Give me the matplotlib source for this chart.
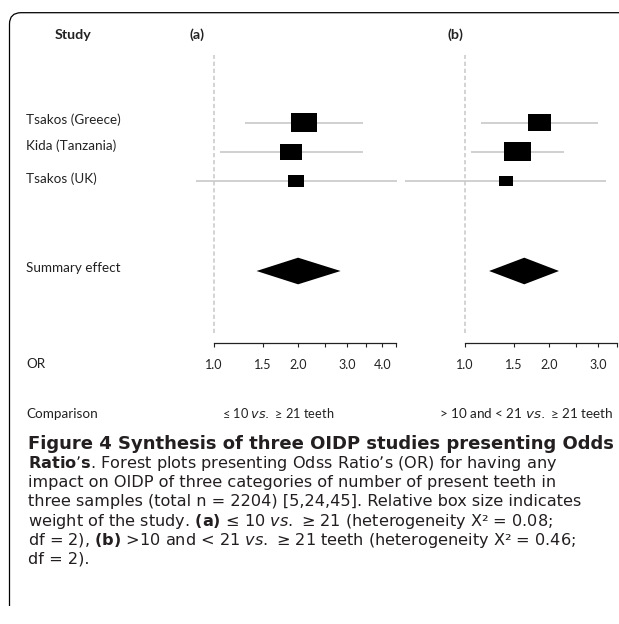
import numpy as np
import matplotlib
matplotlib.use('Agg')
import matplotlib.pyplot as plt
from matplotlib.path import Path
from matplotlib.patches import PathPatch, Polygon
from matplotlib.ticker import NullLocator

plt.rcParams['font.family'] = ['Lato', 'DejaVu Sans']
plt.rcParams['mathtext.fontset'] = 'dejavusans'

# data
studies = ['Tsakos (Greece)', 'Kida (Tanzania)', 'Tsakos (UK)']

or_a = [2.10, 1.89, 1.97]
lo_a = [1.29, 1.05, 0.86]
hi_a = [3.41, 3.41, 4.51]
wt_a = [47, 34, 19]
summ_a = [2.00, 1.42, 2.84]   # estimate, lower, upper
ticks_a = [1.0, 1.5, 2.0, 2.5, 3.0, 3.5, 4.0, 4.5]
lab_a = [1.0, 1.5, 2.0, 3.0, 4.0]

or_b = [1.85, 1.54, 1.40]
lo_b = [1.14, 1.05, 0.61]
hi_b = [2.99, 2.27, 3.20]
wt_b = [36, 51, 13]
summ_b = [1.63, 1.22, 2.17]
ticks_b = [1.0, 1.5, 2.0, 2.5, 3.0, 3.5]
lab_b = [1.0, 1.5, 2.0, 3.0]

W, H = 619, 624
fig = plt.figure(figsize=(W / 100, H / 100), dpi=100)


def fx(x):
    return x / W


def fy(y):
    return 1 - y / H


S = 121.3          # pixels per ln(OR)
top_px, axis_px = 55, 343.3
row0_px, row_step = 122.5, 29.25
summ_row = (271 - row0_px) / row_step

box = Path([(-0.7, -0.5), (0.7, -0.5), (0.7, 0.5), (-0.7, 0.5), (-0.7, -0.5)],
           [Path.MOVETO, Path.LINETO, Path.LINETO, Path.LINETO, Path.CLOSEPOLY])
grey = '#c8c8c8'


def forest(x0_px, xlo, xhi, ors, los, his, wts, summ, ticks, labs):
    left = x0_px + S * np.log(xlo)
    right = x0_px + S * np.log(xhi)
    ax = fig.add_axes([fx(left), fy(axis_px), (right - left) / W, (axis_px - top_px) / H])
    ax.set_xscale('log')
    ax.set_xlim(xlo, xhi)
    ytop = -(row0_px - top_px) / row_step
    ax.set_ylim(ytop + (axis_px - top_px) / row_step, ytop)
    ax.patch.set_alpha(0)
    for s in ['top', 'left', 'right']:
        ax.spines[s].set_visible(False)
    ax.set_yticks([])

    y = np.arange(len(ors))
    ax.hlines(y, los, his, color=grey, lw=1.2, zorder=1)
    ax.scatter(ors, y, s=np.array(wts) * 7.3, marker=box, color='black', lw=0, zorder=2)

    est, lo, hi = summ
    h = 0.455
    ax.add_patch(Polygon([(lo, summ_row), (est, summ_row - h), (hi, summ_row), (est, summ_row + h)],
                         closed=True, color='black', lw=0))
    ax.axvline(1, ymin=10.3 / (axis_px - top_px), ymax=1, color=grey, lw=1.1,
               ls=(0, (2.8, 1.8)), zorder=0)

    ax.spines['bottom'].set_bounds(ticks[0], ticks[-1])
    ax.spines['bottom'].set_linewidth(0.9)
    ax.spines['bottom'].set_color('#222222')
    ax.set_xticks(ticks)
    ax.set_xticklabels(['%.1f' % t if t in labs else '' for t in ticks])
    ax.xaxis.set_minor_locator(NullLocator())
    ax.tick_params(axis='x', direction='out', length=3, width=0.8, pad=8.3,
                   labelsize=9, colors='#222222')
    return ax


forest(214, 0.8, 4.6, or_a, lo_a, hi_a, wt_a, summ_a, ticks_a, lab_a)
forest(465, 0.6, 3.55, or_b, lo_b, hi_b, wt_b, summ_b, ticks_b, lab_b)

# frame
verts = [(9.5, 606), (9.5, 24), (9.5, 12.7), (21, 12.7), (619, 12.7)]
codes = [Path.MOVETO, Path.LINETO, Path.CURVE3, Path.CURVE3, Path.LINETO]
frame = Path([(fx(a), fy(b)) for a, b in verts], codes)
fig.add_artist(PathPatch(frame, fill=False, lw=0.9, color='black', transform=fig.transFigure))

lab = dict(size=9.7, color='#222222')
fig.text(fx(73), fy(35), 'Study', ha='center', va='center', weight='bold', size=10.3, color='#222222')
fig.text(fx(197.5), fy(35), '(a)', ha='center', va='center', weight='bold', size=10.3, color='#222222')
fig.text(fx(455), fy(35), '(b)', ha='center', va='center', weight='bold', size=10.3, color='#222222')
for name, ypx in zip(studies, [119.5, 146, 179]):
    fig.text(fx(26), fy(ypx), name, ha='left', va='center', **lab)
fig.text(fx(26), fy(268), 'Summary effect', ha='left', va='center', **lab)
fig.text(fx(26), fy(364), 'OR', ha='left', va='center', **lab)
fig.text(fx(26), fy(418), 'Comparison', ha='left', va='baseline', **lab)
fig.text(fx(278), fy(418), r'≤ 10 $\mathit{vs.}$ ≥ 21 teeth', ha='center', va='baseline', size=9.2, color='#222222')
fig.text(fx(526.5), fy(418), r'> 10 and < 21 $\mathit{vs.}$ ≥ 21 teeth', ha='center', va='baseline', **lab)

# caption
cap = dict(family='DejaVu Sans', color='#231f20', ha='left', va='baseline')
fig.text(fx(28), fy(449), 'Figure 4 Synthesis of three OIDP studies presenting Odds',
         size=13, weight='bold', **cap)
lines = [
    r"$\mathbf{Ratio’s}$. Forest plots presenting Odss Ratio’s (OR) for having any",
    "impact on OIDP of three categories of number of present teeth in",
    "three samples (total n = 2204) [5,24,45]. Relative box size indicates",
    r"weight of the study. $\mathbf{(a)}$ ≤ 10 $\mathit{vs.}$ ≥ 21 (heterogeneity X² = 0.08;",
    r"df = 2), $\mathbf{(b)}$ >10 and < 21 $\mathit{vs.}$ ≥ 21 teeth (heterogeneity X² = 0.46;",
    "df = 2).",
]
for i, t in enumerate(lines):
    fig.text(fx(28), fy(468 + 19.2 * i), t, size=11.6, **cap)

fig.savefig('out.png', dpi=100)
